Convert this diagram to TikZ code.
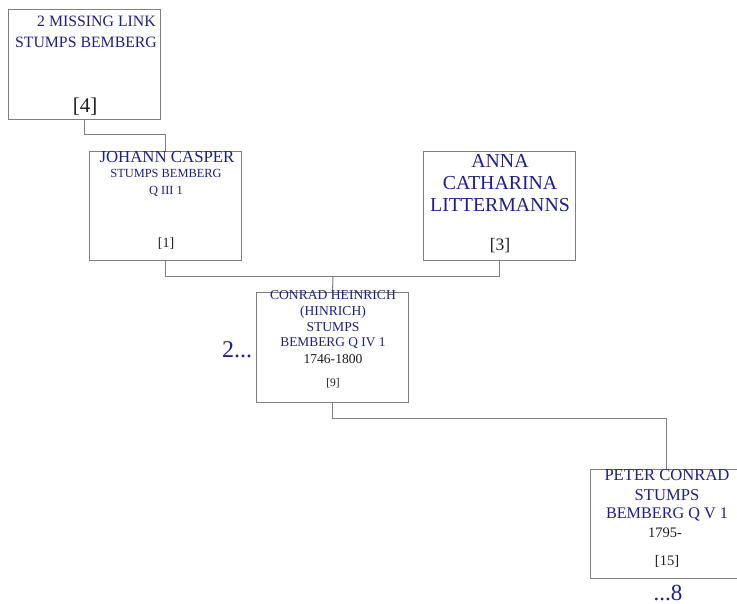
\documentclass[tikz,border=0pt]{standalone}
\usepackage{fontspec}
\setmainfont{Liberation Serif}
\definecolor{nameblue}{RGB}{30,30,140}
\definecolor{boxgray}{RGB}{128,128,128}
\definecolor{txtdark}{RGB}{30,30,30}
\newcommand{\fs}[1]{\fontsize{#1}{#1}\selectfont}
\begin{document}
\begin{tikzpicture}[x=1pt,y=-1pt,
  card/.style={draw=boxgray,line width=1pt,fill=white,minimum width=152pt,minimum height=109pt,inner sep=0pt},
  link/.style={draw=boxgray,line width=1pt},
  nm/.style={text=nameblue,inner sep=0pt,anchor=base},
  dt/.style={text=txtdark,inner sep=0pt,anchor=base}]
\useasboundingbox (0,0) rectangle (737,604);
% connectors first
\coordinate (j1) at (125,135);
\coordinate (j2) at (333,277);
\coordinate (j3) at (500,418);
\node[card,minimum height=110pt] (A) at (84.5,65) {};
\node[card] (B) at (165.5,206.5) {};
\node[card] (C) at (499.5,206.5) {};
\node[card] (D) at (332.5,347.5) {};
\node[card] (E) at (666.5,523.5) {};
\draw[link] (A.south) -- (A.south |- j1) -| (B.north);
\draw[link] (B.south) -- (B.south |- j2) -| (C.south);
\draw[link] (j2) -- (D.north);
\draw[link] (D.south) -- (D.south |- j3) -| (E.north);
% box A
\node[nm] (a1) at (96.5,27) {\fs{15.8}2 MISSING LINK};
\node[nm] (a2) at (86,48) {\fs{15.8}STUMPS BEMBERG};
\node[dt] (a3) at (85,113) {\fs{21}[4]};
% box B
\node[nm] (b1) at (167,163) {\fs{16.8}JOHANN CASPER};
\node[nm] (b2) at (166,178) {\fs{12.4}STUMPS BEMBERG};
\node[nm] (b3) at (166,195) {\fs{12.4}Q III 1};
\node[dt] (b4) at (166,248) {\fs{14}[1]};
% box C
\node[nm] (c1) at (500,168) {\fs{19.8}ANNA};
\node[nm] (c2) at (500,190) {\fs{19.8}CATHARINA};
\node[nm] (c3) at (500,212) {\fs{19.8}LITTERMANNS};
\node[dt] (c4) at (500,251) {\fs{17.5}[3]};
% box D
\node[nm] (d1) at (333,300) {\fs{13.6}CONRAD HEINRICH};
\node[nm] (d2) at (333,316) {\fs{13.6}(HINRICH)};
\node[nm] (d3) at (333,332) {\fs{13.6}STUMPS};
\node[nm] (d4) at (333,347) {\fs{13.4}BEMBERG Q IV 1};
\node[dt] (d5) at (333,363) {\fs{13.6}1746-1800};
\node[dt] (d6) at (333,386) {\fs{11.5}[9]};
\node[nm] (d7) at (237,358) {\fs{24}2...};
% box E
\node[nm] (e1) at (667,480) {\fs{16.6}PETER CONRAD};
\node[nm] (e2) at (667,500) {\fs{16.6}STUMPS};
\node[nm] (e3) at (667,518) {\fs{16.2}BEMBERG Q V 1};
\node[dt] (e4) at (665,537) {\fs{14.5}1795-};
\node[dt] (e5) at (667,565) {\fs{14.5}[15]};
\node[nm] (e6) at (668,600) {\fs{23}...8};
\end{tikzpicture}
\end{document}
